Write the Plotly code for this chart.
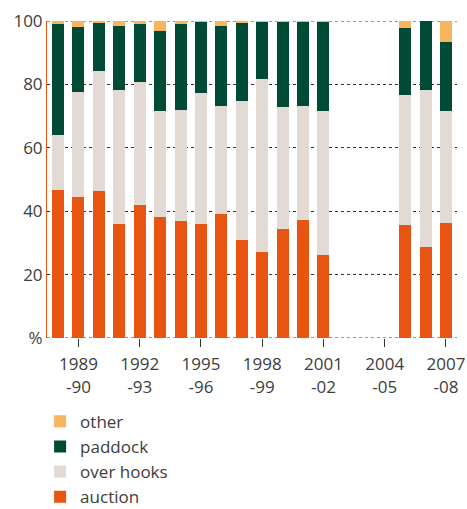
import plotly.graph_objects as go

years = ["1988-89", "1989-90", "1990-91", "1991-92", "1992-93", "1993-94", "1994-95",
         "1995-96", "1996-97", "1997-98", "1998-99", "1999-00", "2000-01", "2001-02",
         "2002-03", "2003-04", "2004-05", "2005-06", "2006-07", "2007-08"]
auction = [46.7, 44.5, 46.4, 36.0, 42.0, 38.2, 37.0, 36.0, 39.2, 31.0, 27.2, 34.5, 37.3, 26.3,
           None, None, None, 35.7, 28.8, 36.3]
over_hooks = [17.4, 33.1, 37.8, 42.3, 38.8, 33.4, 35.0, 41.3, 34.0, 43.8, 54.5, 38.4, 35.9, 45.3,
              None, None, None, 41.0, 49.5, 35.3]
paddock = [35.0, 20.5, 15.2, 20.1, 18.3, 25.2, 27.1, 22.4, 25.2, 24.6, 18.0, 26.8, 26.5, 28.1,
           None, None, None, 21.1, 21.7, 21.8]
other = [0.9, 1.9, 0.6, 1.6, 0.9, 3.2, 0.9, 0.3, 1.6, 0.6, 0.3, 0.3, 0.3, 0.3,
         None, None, None, 2.2, 0.0, 6.6]

tick_years = ["1989-90", "1992-93", "1995-96", "1998-99", "2001-02", "2004-05", "2007-08"]
tick_text = [y[:4] + "<br>-" + y[5:] for y in tick_years]
y_ticks = [0, 20, 40, 60, 80, 100]
y_text = ["%", "20", "40", "60", "80", "100"]

series = [
    ("auction", auction, "#E85412"),
    ("over hooks", over_hooks, "#E3DAD5"),
    ("paddock", paddock, "#004B36"),
    ("other", other, "#F9B55D"),
]

fig = go.Figure()
for name, vals, col in series:
    fig.add_trace(go.Bar(x=years, y=vals, name=name, marker=dict(color=col, line=dict(width=0)),
                         legendgroup=name))

# dotted frame lines at the axis ends (0 and 100), like the other gridlines
for yv in (y_ticks[0], y_ticks[-1]):
    fig.add_shape(type="line", xref="paper", x0=0, x1=1, yref="y", y0=yv, y1=yv,
                  line=dict(color="#333", width=1, dash="dot"), layer="below")

font_col = "#3d3d3d"

fig.update_layout(
    width=467, height=509,
    margin=dict(l=47, r=10, t=21, b=171, autoexpand=False),
    barmode="stack", bargap=0.41,
    plot_bgcolor="white", paper_bgcolor="white",
    font=dict(family="Open Sans", size=17, color=font_col),
    showlegend=True,
    legend=dict(traceorder="reversed", xref="container", yref="container",
                x=0.0859, xanchor="left", y=0.2067, yanchor="top",
                tracegroupgap=3, font=dict(size=17, color=font_col),
                bgcolor="rgba(0,0,0,0)"),
    xaxis=dict(type="category", range=[-0.54, 19.54], tickmode="array", automargin=False,
               tickvals=tick_years, ticktext=tick_text, ticks="outside", ticklen=8,
               ticklabelstandoff=3,
               tickcolor="#333", showgrid=False, showline=False, zeroline=False,
               tickfont=dict(size=17, color=font_col)),
    yaxis=dict(range=[0, 100], tickmode="array", tickvals=y_ticks, ticktext=y_text, automargin=False,
               showgrid=True, gridcolor="#333", griddash="dot", gridwidth=1,
               zeroline=False, showline=True, linecolor="#E85412", linewidth=1,
               ticks="", tickfont=dict(size=17, color=font_col)),
)

fig.write_html("out.html", config={"displayModeBar": False},
               post_script="document.body.style.margin='0';")
